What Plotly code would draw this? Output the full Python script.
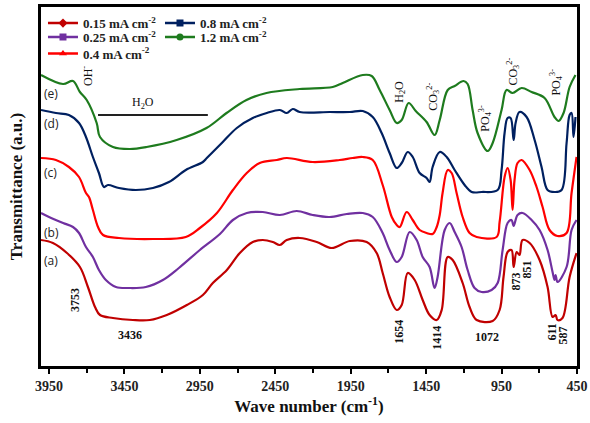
import plotly.graph_objects as go

# ---------------- data (wavenumber cm-1, transmittance a.u.) ----------------
wn_a = [4003, 3924, 3831, 3745, 3692, 3645, 3612, 3526, 3394, 3281, 3169, 3036, 2930, 2864, 2771, 2685,
        2599, 2533, 2466, 2420, 2374, 2288, 2175, 2076, 1956, 1844, 1778, 1738, 1692, 1645, 1612, 1572,
        1526, 1473, 1427, 1380, 1347, 1307, 1274, 1208, 1162, 1115, 1009, 963, 937, 910, 884, 870,
        850, 831, 811, 764, 698, 645, 612, 592, 579, 546, 499, 453]
t_a = [126, 123, 113, 99, 79, 59, 51, 48, 46, 46, 51, 61, 71, 83, 96, 113,
       124, 126, 124, 121, 126, 128, 124, 118, 125, 124, 113, 93, 69, 56, 61, 93,
       86, 66, 51, 46, 56, 109, 106, 83, 59, 46, 45, 56, 89, 114, 116, 99,
       114, 111, 126, 123, 106, 79, 49, 51, 46, 48, 89, 113]

wn_b = [4003, 3950, 3857, 3791, 3751, 3705, 3659, 3619, 3573, 3506, 3420, 3308, 3195, 3089, 2950, 2817,
        2731, 2639, 2533, 2420, 2308, 2202, 2089, 1976, 1870, 1804, 1738, 1692, 1645, 1612, 1559, 1513,
        1473, 1427, 1394, 1374, 1327, 1294, 1261, 1215, 1175, 1129, 1082, 1016, 976, 943, 910, 884,
        870, 844, 811, 751, 698, 645, 612, 599, 592, 579, 519, 486, 453]
t_b = [153, 149, 143, 139, 133, 119, 109, 96, 86, 79, 78, 79, 86, 98, 116, 132,
       146, 153, 154, 151, 155, 151, 149, 152, 153, 149, 133, 116, 104, 109, 134, 126,
       109, 99, 78, 89, 136, 143, 134, 119, 96, 78, 74, 76, 83, 116, 143, 146,
       140, 151, 153, 146, 136, 116, 94, 86, 91, 84, 99, 136, 146]

wn_c = [4003, 3904, 3818, 3751, 3705, 3685, 3659, 3625, 3592, 3486, 3261, 3043, 2950, 2837, 2731, 2639,
        2553, 2440, 2374, 2202, 2023, 1937, 1870, 1804, 1738, 1678, 1645, 1625, 1579, 1539, 1493, 1447,
        1407, 1380, 1360, 1341, 1307, 1281, 1248, 1208, 1162, 1115, 983, 963, 930, 910, 890, 877,
        864, 844, 817, 764, 718, 678, 632, 579, 519, 486, 453]
t_c = [208, 206, 199, 189, 173, 169, 156, 139, 131, 128, 127, 129, 138, 153, 176, 193,
       203, 206, 208, 204, 206, 208, 209, 206, 181, 149, 141, 139, 154, 146, 136, 133,
       132, 139, 151, 173, 196, 193, 173, 149, 133, 129, 129, 144, 189, 198, 186, 156,
       186, 203, 206, 196, 179, 159, 136, 130, 133, 173, 209]

wn_d = [4003, 3904, 3818, 3751, 3705, 3659, 3619, 3586, 3559, 3486, 3374, 3261, 3155, 3043, 2930, 2904,
        2864, 2798, 2705, 2599, 2506, 2420, 2374, 2334, 2288, 2089, 1956, 1870, 1804, 1745, 1692, 1645,
        1612, 1572, 1539, 1493, 1447, 1427, 1407, 1360, 1314, 1261, 1195, 1148, 1082, 976, 950, 930,
        910, 890, 870, 857, 831, 784, 731, 685, 645, 599, 552, 519, 499, 486, 473, 460]
t_d = [256, 253, 251, 243, 229, 209, 193, 179, 181, 178, 176, 178, 184, 196, 204, 208,
       214, 224, 238, 248, 253, 256, 253, 257, 254, 254, 254, 255, 249, 233, 213, 198,
       203, 214, 209, 193, 188, 184, 199, 214, 209, 196, 181, 174, 174, 176, 196, 233,
       248, 248, 226, 243, 254, 249, 226, 199, 176, 174, 176, 223, 251, 253, 229, 249]

wn_e = [4003, 3857, 3791, 3745, 3700, 3634, 3612, 3526, 3414, 3303, 3104, 2906, 2773, 2641, 2508, 2288,
        2069, 2003, 1870, 1811, 1758, 1692, 1645, 1612, 1566, 1519, 1447, 1394, 1360, 1307, 1261, 1202,
        1175, 1142, 1109, 1042, 1009, 950, 917, 877, 817, 751, 665, 599, 572, 539, 499, 460]
t_e = [291, 282, 285, 274, 266, 243, 229, 219, 217, 219, 226, 238, 253, 266, 273, 277,
       279, 283, 291, 290, 276, 256, 243, 246, 263, 255, 244, 231, 246, 276, 280, 285,
       282, 256, 233, 215, 223, 256, 276, 273, 278, 274, 268, 249, 245, 253, 279, 291]

names = ["0.15 mA cm<sup>-2</sup>", "0.25 mA cm<sup>-2</sup>", "0.4 mA cm<sup>-2</sup>",
         "0.8 mA cm<sup>-2</sup>", "1.2 mA cm<sup>-2</sup>"]
labels = ["(a)", "(b)", "(c)", "(d)", "(e)"]
label_t = [106, 134, 194, 243, 273]
colors = ["#c00000", "#7030a0", "#ff0000", "#002060", "#1e7b1e"]
symbols = ["diamond", "square", "triangle-up", "square", "circle"]
xticks = [3950, 3450, 2950, 2450, 1950, 1450, 950, 450]

series = [(wn_a, t_a), (wn_b, t_b), (wn_c, t_c), (wn_d, t_d), (wn_e, t_e)]

SERIF = "Liberation Serif"
fig = go.Figure()

for (wx, ty), c in zip(series, colors):
    fig.add_trace(go.Scatter(x=wx, y=ty, mode="lines", line=dict(color=c, width=2.2),
                             line_shape="spline", showlegend=False, hoverinfo="skip"))

# legend entries: one small legend per entry (2 columns, 3 rows)
legend_ids = ["legend", "legend2", "legend3", "legend4", "legend5"]
legend_pos = [(0.0037, 0.955), (0.0037, 0.916), (0.0037, 0.870),
              (0.222, 0.955), (0.222, 0.916)]
for i in range(5):
    fig.add_trace(go.Scatter(x=[None], y=[None], mode="lines+markers", name="<b>" + names[i] + "</b>",
                             line=dict(color=colors[i], width=2.5),
                             marker=dict(symbol=symbols[i], size=7, color=colors[i]),
                             legend=legend_ids[i]))

legend_layout = {}
for lid, (lx, ly) in zip(legend_ids, legend_pos):
    legend_layout[lid] = dict(x=lx, y=ly, xanchor="left", yanchor="middle",
                              bgcolor="rgba(0,0,0,0)", borderwidth=0,
                              font=dict(family=SERIF, size=13, color="#222"),
                              itemwidth=30)

# curve labels
for lab, t in zip(labels, label_t):
    fig.add_annotation(x=3995, y=t, text=lab, showarrow=False, xanchor="left",
                       font=dict(family="Open Sans", size=12, color="#222"))

ann = [
    ("OH<sup>-</sup>", 3698, 290, -90),
    ("H<sub>2</sub>O", 3327, 263, 0),
    ("H<sub>2</sub>O", 1625, 274, -90),
    ("CO<sub>3</sub><sup>2-</sup>", 1407, 269, -90),
    ("PO<sub>4</sub><sup>3-</sup>", 1062, 248, -90),
    ("CO<sub>3</sub><sup>2-</sup>", 877, 294, -90),
    ("PO<sub>4</sub><sup>3-</sup>", 592, 284, -90),
    ("<b>3753</b>", 3778, 66, -90),
    ("<b>3436</b>", 3414, 31, 0),
    ("<b>1654</b>", 1632, 34, -90),
    ("<b>1414</b>", 1380, 28, -90),
    ("<b>1072</b>", 1049, 29, 0),
    ("<b>873</b>", 857, 84, -90),
    ("<b>851</b>", 784, 96, -90),
    ("<b>611</b>", 619, 34, -90),
    ("<b>587</b>", 546, 30, -90),
]
for txt, xx, yy, ang in ann:
    fig.add_annotation(x=xx, y=yy, text=txt, showarrow=False, textangle=ang,
                       font=dict(family=SERIF, size=12, color="#111"))

fig.add_shape(type="line", x0=3625, x1=2897, y0=251, y1=251, xref="x", yref="y",
              line=dict(color="#222", width=2))

fig.update_layout(
    width=590, height=423,
    margin=dict(l=41, r=13, t=7, b=57, autoexpand=False),
    paper_bgcolor="white", plot_bgcolor="white",
    font=dict(family=SERIF, color="black"),
    **legend_layout,
)
fig.update_xaxes(range=[4003, 450], tickvals=xticks, ticktext=["<b>%d</b>" % v for v in xticks],
                 ticks="outside", ticklen=5, tickwidth=2, tickcolor="black", automargin=False,
                 minor=dict(ticks="outside", tickvals=[3700, 3200, 2700, 2200, 1700, 1200, 700],
                            ticklen=4, tickwidth=2, tickcolor="black"),
                 showline=True, linewidth=2.5, linecolor="black", mirror=True,
                 showgrid=False, zeroline=False,
                 tickfont=dict(family=SERIF, size=14, color="#222"),
                 title=dict(text="<b>Wave number (cm<sup>-1</sup>)</b>", standoff=8,
                            font=dict(family=SERIF, size=17, color="#111")))
fig.update_yaxes(range=[0, 359], showticklabels=False, ticks="", automargin=False,
                 showline=True, linewidth=2.5, linecolor="black", mirror=True,
                 showgrid=False, zeroline=False,
                 title=dict(text="<b>Transmittance (a.u.)</b>", standoff=12,
                            font=dict(family=SERIF, size=17, color="#111")))

fig.write_html("out.html", config={"displayModeBar": False},
               post_script="document.body.style.margin='0';document.body.style.padding='0';")
